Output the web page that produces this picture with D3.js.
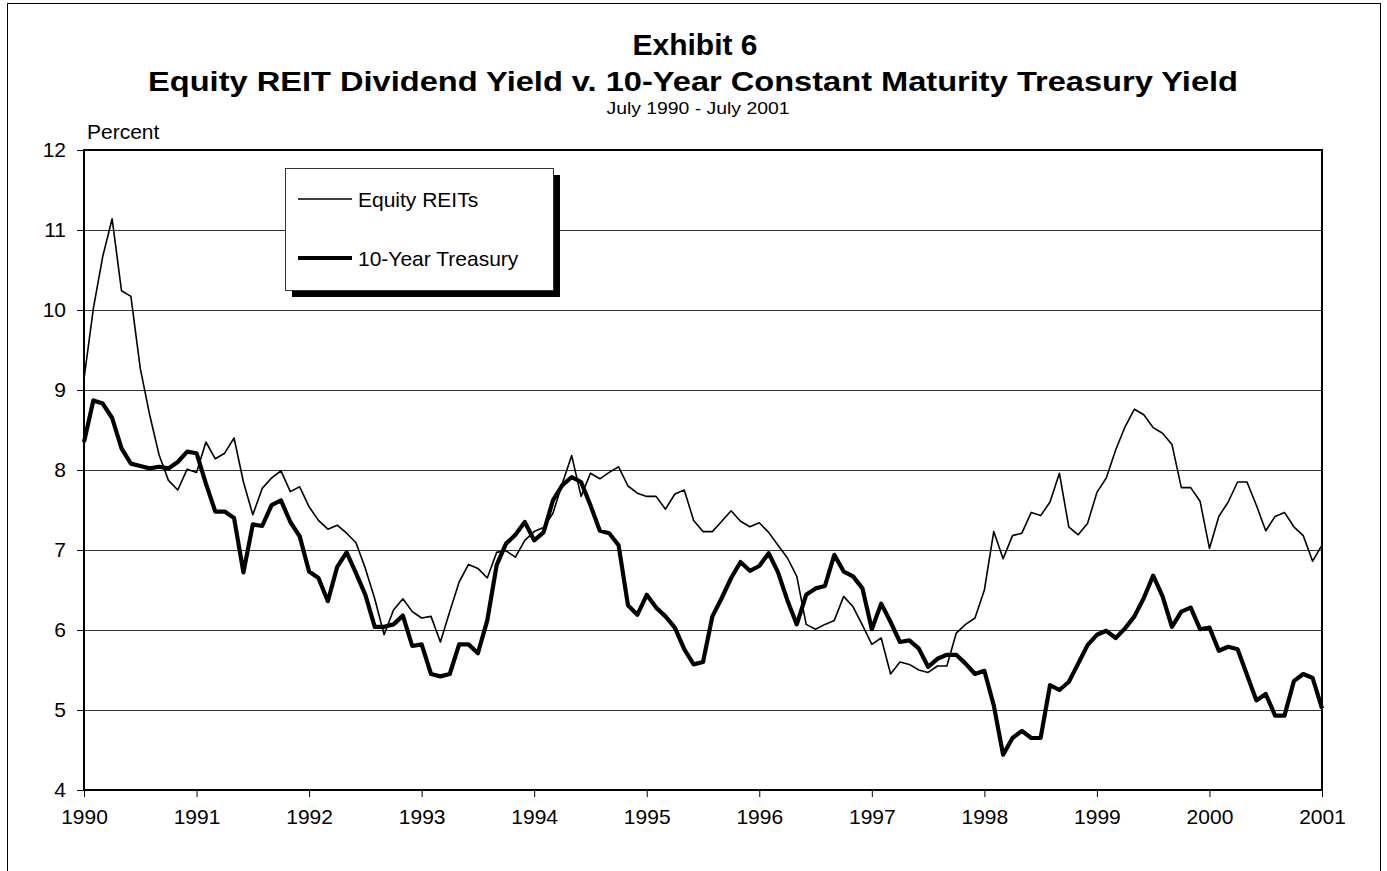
<!DOCTYPE html>
<html>
<head>
<meta charset="utf-8">
<script src="https://cdn.jsdelivr.net/npm/d3@7"></script>
<style>
  html, body { margin: 0; padding: 0; background: #fff; }
  svg { display: block; font-family: "Liberation Sans", Arial, sans-serif; }
</style>
</head>
<body>
<div id="chart"></div>
<script>
// 月次データ（1990年1月～2001年1月、133点）
var YEARS = ['1990', '1991', '1992', '1993', '1994', '1995', '1996',
             '1997', '1998', '1999', '2000', '2001'];
var Y_TICKS = [4, 5, 6, 7, 8, 9, 10, 11, 12];

var REIT = [
  9.14, 10.02, 10.67, 11.14, 10.24, 10.17, 9.27, 8.69, 8.19, 7.87, 7.75, 8.01,
  7.97, 8.35, 8.14, 8.21, 8.40, 7.85, 7.44, 7.77, 7.90, 7.99, 7.73, 7.79,
  7.54, 7.37, 7.26, 7.31, 7.21, 7.09, 6.77, 6.39, 5.94, 6.25, 6.39, 6.23,
  6.15, 6.17, 5.85, 6.23, 6.60, 6.82, 6.77, 6.65, 6.97, 6.99, 6.91, 7.12,
  7.23, 7.28, 7.46, 7.83, 8.18, 7.67, 7.96, 7.89, 7.97, 8.04, 7.80, 7.71,
  7.67, 7.67, 7.51, 7.70, 7.75, 7.37, 7.23, 7.23, 7.36, 7.49, 7.36, 7.29,
  7.34, 7.22, 7.06, 6.90, 6.67, 6.07, 6.01, 6.07, 6.12, 6.42, 6.29, 6.06,
  5.82, 5.90, 5.45, 5.60, 5.57, 5.50, 5.47, 5.55, 5.55, 5.96, 6.07, 6.15,
  6.50, 7.23, 6.89, 7.18, 7.21, 7.47, 7.43, 7.60, 7.96, 7.29, 7.19, 7.33,
  7.72, 7.90, 8.25, 8.54, 8.76, 8.69, 8.53, 8.46, 8.32, 7.78, 7.78, 7.61,
  7.02, 7.42, 7.60, 7.85, 7.85, 7.56, 7.24, 7.42, 7.47, 7.29, 7.18, 6.86,
  7.06
];
var TREASURY = [
  8.35, 8.87, 8.83, 8.65, 8.27, 8.08, 8.05, 8.02, 8.04, 8.02, 8.10, 8.23,
  8.21, 7.83, 7.48, 7.48, 7.40, 6.72, 7.32, 7.30, 7.56, 7.62, 7.35, 7.17,
  6.73, 6.65, 6.36, 6.79, 6.97, 6.71, 6.44, 6.04, 6.04, 6.07, 6.18, 5.80,
  5.82, 5.45, 5.42, 5.45, 5.82, 5.82, 5.71, 6.12, 6.81, 7.08, 7.19, 7.35,
  7.12, 7.22, 7.62, 7.81, 7.91, 7.85, 7.56, 7.24, 7.21, 7.06, 6.31, 6.19,
  6.44, 6.28, 6.17, 6.03, 5.76, 5.57, 5.60, 6.17, 6.40, 6.65, 6.85, 6.74,
  6.80, 6.96, 6.72, 6.37, 6.07, 6.44, 6.52, 6.55, 6.94, 6.73, 6.67, 6.52,
  6.01, 6.33, 6.10, 5.85, 5.87, 5.77, 5.54, 5.64, 5.69, 5.69, 5.58, 5.45,
  5.49, 5.06, 4.44, 4.65, 4.74, 4.65, 4.65, 5.31, 5.25, 5.35, 5.58, 5.81,
  5.94, 5.99, 5.90, 6.02, 6.17, 6.40, 6.68, 6.42, 6.04, 6.23, 6.28, 6.01,
  6.03, 5.74, 5.79, 5.76, 5.44, 5.12, 5.20, 4.93, 4.93, 5.36, 5.45, 5.40,
  5.02
];
var SERIES = [['Equity REITs', REIT, 1.6], ['10-Year Treasury', TREASURY, 4.2]];

(function () {
    var W = 1387, H = 871;
    var ml = 84, mr = 1322, mt = 150, mb = 790;

    var svg = d3.select('#chart').append('svg')
        .attr('width', W).attr('height', H);

    // 外枠
    svg.append('rect').attr('x', 7.5).attr('y', 3.5).attr('width', 1373).attr('height', 900)
        .attr('fill', 'none').attr('stroke', '#000').attr('stroke-width', 1);

    var x = d3.scaleLinear().domain([0, REIT.length - 1]).range([ml, mr]);
    var y = d3.scaleLinear().domain([4, 12]).range([mb, mt]);

    // タイトル
    svg.append('text').attr('x', 695).attr('y', 55).attr('text-anchor', 'middle')
        .attr('font-size', 30).attr('font-weight', 'bold').text('Exhibit 6');
    svg.append('text').attr('x', 693).attr('y', 91).attr('text-anchor', 'middle')
        .attr('font-size', 27).attr('font-weight', 'bold')
        .attr('textLength', 1090).attr('lengthAdjust', 'spacingAndGlyphs')
        .text('Equity REIT Dividend Yield v. 10-Year Constant Maturity Treasury Yield');
    svg.append('text').attr('x', 698).attr('y', 114).attr('text-anchor', 'middle')
        .attr('font-size', 17).attr('textLength', 183).attr('lengthAdjust', 'spacingAndGlyphs')
        .text('July 1990 - July 2001');
    svg.append('text').attr('x', 87).attr('y', 139)
        .attr('font-size', 21).text('Percent');

    // グリッド
    svg.append('g').selectAll('line').data(Y_TICKS.slice(1, -1)).enter().append('line')
        .attr('x1', ml).attr('x2', mr)
        .attr('y1', function (d) { return Math.round(y(d)) + 0.5; })
        .attr('y2', function (d) { return Math.round(y(d)) + 0.5; })
        .attr('stroke', '#333').attr('stroke-width', 1);

    // 軸
    var yAxis = d3.axisLeft(y).tickValues(Y_TICKS).tickSize(7).tickPadding(11)
        .tickFormat(d3.format('d'));
    var gy = svg.append('g').attr('transform', 'translate(' + ml + ',0)').call(yAxis);
    gy.select('.domain').remove();
    gy.selectAll('text').attr('font-size', 21).attr('font-family', null).attr('fill', '#000');

    var xAxis = d3.axisBottom(x).tickValues(d3.range(0, REIT.length, 12)).tickSize(7)
        .tickPadding(12).tickFormat(function (d) { return YEARS[d / 12]; });
    var gx = svg.append('g').attr('transform', 'translate(0,' + mb + ')').call(xAxis);
    gx.select('.domain').remove();
    gx.selectAll('text').attr('font-size', 21).attr('font-family', null).attr('fill', '#000');

    // 系列
    var line = d3.line()
        .x(function (d, i) { return x(i); })
        .y(function (d) { return y(d); })
        .curve(d3.curveLinear);
    SERIES.forEach(function (s) {
        svg.append('path').datum(s[1]).attr('d', line)
            .attr('fill', 'none').attr('stroke', '#000')
            .attr('stroke-width', s[2]).attr('stroke-linejoin', 'round');
    });

    // プロット枠
    svg.append('rect').attr('x', ml).attr('y', mt).attr('width', mr - ml).attr('height', mb - mt)
        .attr('fill', 'none').attr('stroke', '#000').attr('stroke-width', 2);

    // 凡例（影付き）
    var lx = 285, ly = 168, lw = 268, lh = 122;
    svg.append('rect').attr('x', lx + 7).attr('y', ly + 7).attr('width', lw).attr('height', lh)
        .attr('fill', '#000');
    svg.append('rect').attr('x', lx + 0.5).attr('y', ly + 0.5).attr('width', lw).attr('height', lh)
        .attr('fill', '#fff').attr('stroke', '#333').attr('stroke-width', 1);
    SERIES.forEach(function (s, k) {
        var yy = ly + 31 + k * 59;
        svg.append('line').attr('x1', lx + 13).attr('x2', lx + 67)
            .attr('y1', yy).attr('y2', yy)
            .attr('stroke', '#000').attr('stroke-width', s[2]);
        svg.append('text').attr('x', lx + 73).attr('y', yy + 8)
            .attr('font-size', 21).text(s[0]);
    });
})();
</script>
</body>
</html>
